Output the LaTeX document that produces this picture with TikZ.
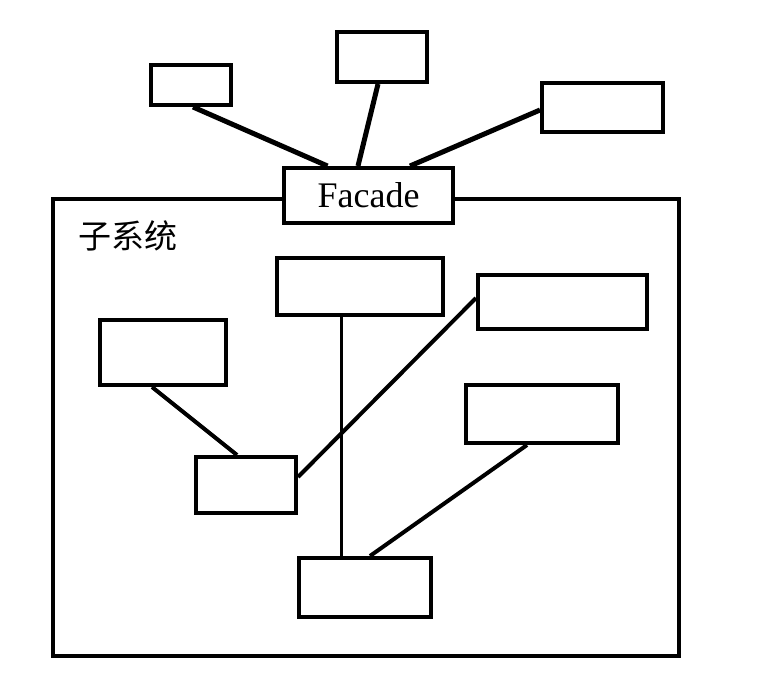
\documentclass[tikz,border=0pt]{standalone}
\usepackage{fontspec}
\setmainfont{Liberation Serif}
\newfontfamily\cjk{Noto Sans CJK SC}

\begin{document}
\begin{tikzpicture}[
    x=1pt, y=-1pt,
    part/.style={rectangle, draw, line width=4pt, fill=white, inner sep=0pt},
    frame/.style={rectangle, draw, line width=4pt, inner sep=0pt, minimum width=626pt, minimum height=457pt},
    outer/.style={line width=5pt},
    inner/.style={line width=4pt}
]
\useasboundingbox (0,0) rectangle (758,680);

% Subsystem frame
\node[frame] (subsys) at (366,427.5) {};
\node[anchor=center, font=\cjk\fontsize{33}{36}\selectfont] (sublabel) at (128,236) {子系统};

% Clients
\node[part, minimum width=80pt, minimum height=40pt] (cliA) at (191,85) {};
\node[part, minimum width=90pt, minimum height=50pt] (cliB) at (382,57) {};
\node[part, minimum width=121pt, minimum height=49pt] (cliC) at (602.5,107.5) {};

% Facade
\node[part, minimum width=169pt, minimum height=55pt, font=\fontsize{36}{40}\selectfont] (facade) at (368.5,195.5) {Facade};

% Subsystem classes
\node[part, minimum width=166pt, minimum height=57pt] (sysA) at (360,286.5) {};
\node[part, minimum width=169pt, minimum height=54pt] (sysB) at (562.5,302) {};
\node[part, minimum width=126pt, minimum height=65pt] (sysC) at (163,352.5) {};
\node[part, minimum width=152pt, minimum height=58pt] (sysD) at (542,414) {};
\node[part, minimum width=100pt, minimum height=56pt] (sysE) at (246,485) {};
\node[part, minimum width=132pt, minimum height=59pt] (sysF) at (365,587.5) {};

% Client links
\draw[outer] ([xshift=2]cliA.south) -- ([xshift=-41]facade.north);
\draw[outer] ([xshift=-4]cliB.south) -- ([xshift=-10.5]facade.north);
\draw[outer] ([yshift=-2.5]cliC.west) -- ([xshift=41.5]facade.north);

% Subsystem links
\draw[line width=3pt] ([xshift=-19]sysA.south) -- ([xshift=-24]sysF.north);
\draw[inner] ([yshift=4]sysB.west) -- ([yshift=8]sysE.east);
\draw[inner] ([xshift=-11]sysC.south) -- ([xshift=-9]sysE.north);
\draw[inner] ([xshift=-15]sysD.south) -- ([xshift=5]sysF.north);

\end{tikzpicture}
\end{document}
